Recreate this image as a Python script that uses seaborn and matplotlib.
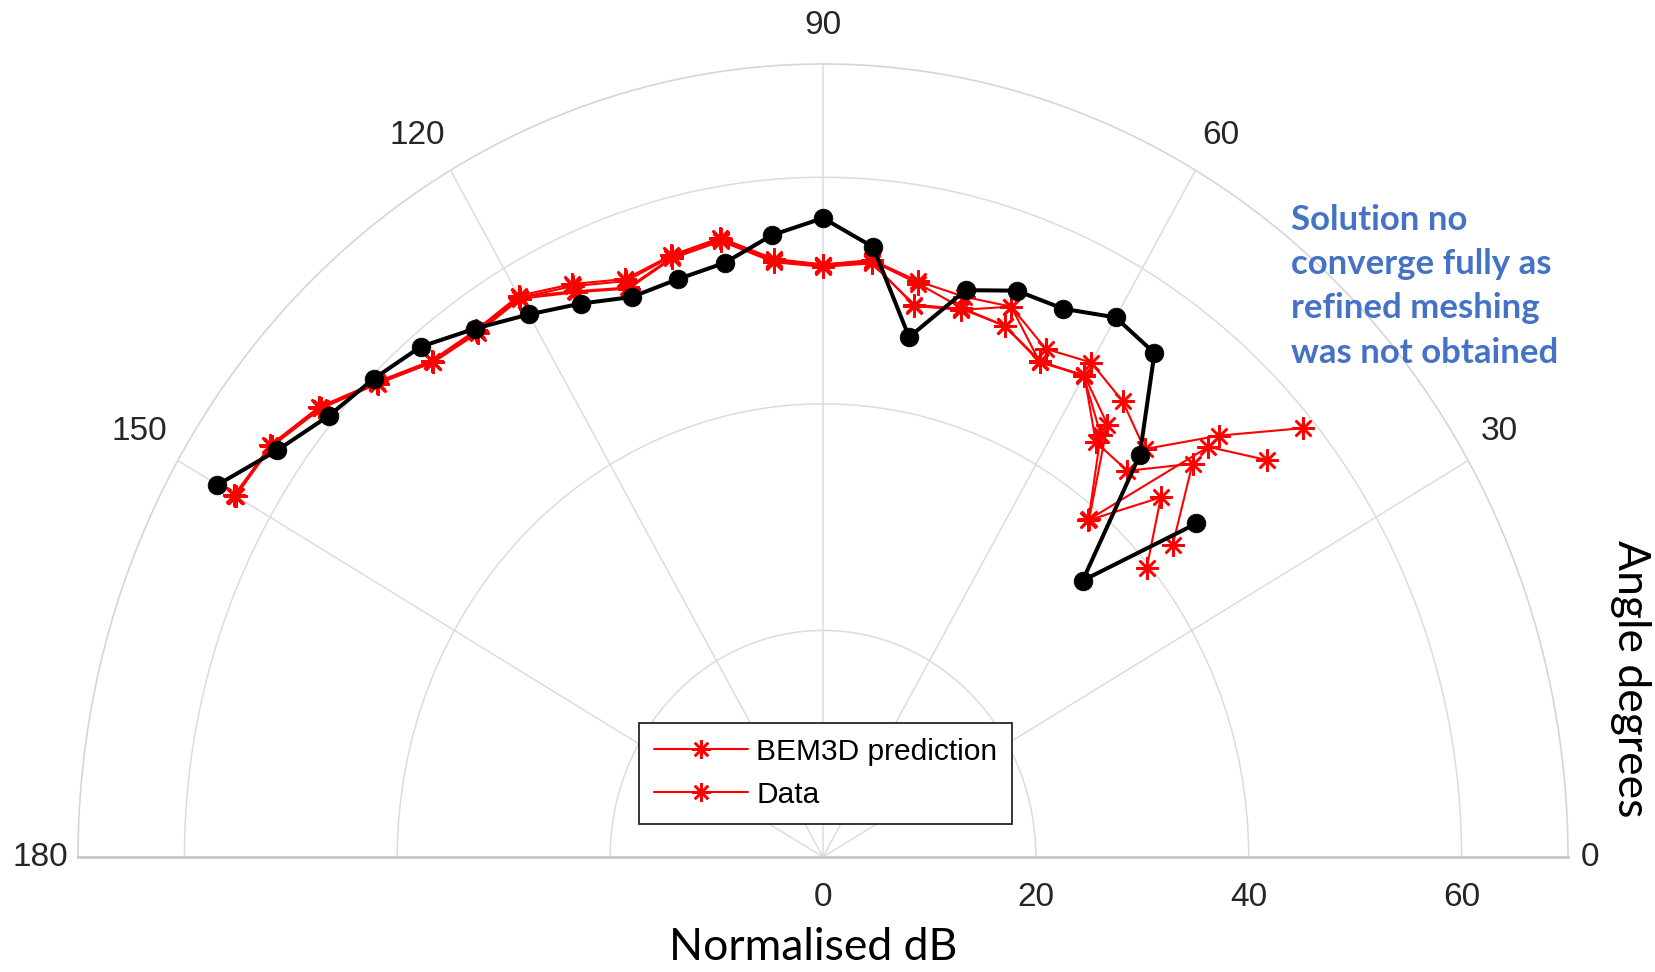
import numpy as np
import pandas as pd
import matplotlib
matplotlib.use("Agg")
import matplotlib.pyplot as plt
import seaborn as sns

# ---------------- data ----------------
angles_deg = [150, 145, 140, 135, 130, 125, 120, 115, 110, 105, 100, 95,
              90, 85, 80, 75, 70, 65, 60, 55, 50, 45, 40]

bem3d_black = [65.7, 62.6, 60.6, 59.7, 58.8, 56.95, 55.3, 53.9, 52.6, 52.8, 53.25, 55.1,
               56.4, 54.05, 46.6, 51.8, 53.2, 53.4, 55.0, 54.3, 46.3, 34.5, 45.8]

red_a = [63.8, 63.4, 61.8, 59.3, 57.2, 56.8, 57.2, 55.8, 54.3, 55.0, 55.5, 53.0,
         52.3, 52.9, 51.6, 51.2, 51.7, 49.5, 50.4, 49.1, 47.0, 52.6, 58.9]
red_b = [63.8, 63.2, 61.6, 59.1, 57.0, 56.5, 56.9, 55.0, 53.4, 54.7, 55.2, 52.7,
         52.1, 52.6, 49.5, 50.1, 49.9, 48.2, 49.1, 44.7, 44.5, 49.1, 42.9]
red_c = [63.7, 63.3, 61.7, 59.2, 57.1, 56.7, 57.1, 55.1, 53.5, 54.8, 55.4, 52.8,
         52.2, 52.7, 49.4, 50.0, 51.7, 48.2, 49.1, 46.6, 38.9, 51.2, 54.5]
red_d = [63.9, 63.3, 61.6, 59.2, 57.0, 56.6, 57.0, 55.6, 54.1, 54.9, 55.3, 52.9,
         52.3, 52.8, 51.4, 50.2, 49.9, 48.3, 49.0, 45.5, 38.8, 44.9, 39.7]

theta_ticks = [0, 30, 60, 90, 120, 150, 180]
theta_labels = ["0", "30", "60", "90", "120", "150", "180"]
r_ticks = [0, 20, 40, 60]
r_labels = ["0", "20", "40", "60"]
legend_labels = ["BEM3D prediction", "Data"]
note_lines = ["Solution no", "converge fully as", "refined meshing", "was not obtained"]
x_title = "Normalised dB"
y_title = "Angle degrees"

# ---------------- style ----------------
sns.set_theme(style="white")
plt.rcParams["font.family"] = ["Liberation Sans", "DejaVu Sans"]

W_PX, H_PX = 1655, 972
DPI = 100
fig = plt.figure(figsize=(W_PX / DPI, H_PX / DPI), dpi=DPI)
fig.patch.set_facecolor("white")

# polar axes: centre (823, 857) px, horizontal radius 745 px, vertical radius 793 px
cx, cy, rx, ry = 823, 857, 745, 793
ax_w = 2 * rx
ax_h = 2 * ry
ax_left = (cx - rx) / W_PX
ax_bottom = ((H_PX - cy) - 0.25 * ax_h) / H_PX
ax = fig.add_axes([ax_left, ax_bottom, ax_w / W_PX, ax_h / H_PX], projection="polar")
ax.set_aspect("auto")
ax.set_facecolor("white")

theta = np.deg2rad(angles_deg)
red_series = [(red_a, legend_labels[0]), (red_b, legend_labels[1]),
              (red_c, None), (red_d, None)]
ast = (8, 2, 0)
for vals, lab in red_series:
    kw = dict(label=lab) if lab else {}
    sns.lineplot(x=theta, y=vals, ax=ax, sort=False, estimator=None,
                 color="#ff0000", linewidth=1.5, marker=ast, markersize=16,
                 markeredgecolor="#ff0000", markeredgewidth=1.8, zorder=3, **kw)

sns.lineplot(x=theta, y=bem3d_black, ax=ax, sort=False, estimator=None,
             color="black", linewidth=2.9, marker="o", markersize=13.5,
             markeredgecolor="black", markerfacecolor="black", markeredgewidth=0.5,
             zorder=4)

if ax.get_legend() is not None:
    ax.get_legend().remove()

ax.set_thetamin(0)
ax.set_thetamax(180)
ax.set_rlim(0, 70)
ax.set_xticks(np.deg2rad(theta_ticks))
ax.set_xticklabels([])
ax.set_yticks(r_ticks[1:])
ax.set_yticklabels([])
ax.tick_params(length=0)
ax.set_xlabel("")
ax.set_ylabel("")
ax.grid(True, color="#dcdcdc", linewidth=1.1)
ax.spines["polar"].set_color("#d6d6d6")
ax.spines["polar"].set_linewidth(1.2)
for s in ("start", "end"):
    ax.spines[s].set_color("#c8c8c8")
    ax.spines[s].set_linewidth(2.0)
if "inner" in ax.spines:
    ax.spines["inner"].set_visible(False)

# theta labels (offsets from outer ring, in pixels)
px2pt = 72.0 / DPI
theta_off = {0: (22, 0), 30: (31, 29.5), 60: (25.5, 35), 90: (0, 39),
             120: (-33.5, 35), 150: (-38, 29.5), 180: (-38, 0)}
tick_font = dict(family=["Liberation Sans", "DejaVu Sans"], size=24, color="#262626")
for a, lab in zip(theta_ticks, theta_labels):
    dx, dy = theta_off[a]
    ax.annotate(lab, xy=(np.deg2rad(a), 70), xycoords="data",
                xytext=(dx * px2pt, dy * px2pt), textcoords="offset points",
                ha="center", va="center", annotation_clip=False, **tick_font)

for r, lab in zip(r_ticks, r_labels):
    ax.annotate(lab, xy=(0, r), xycoords="data",
                xytext=(0, -40 * px2pt), textcoords="offset points",
                ha="center", va="center", annotation_clip=False, **tick_font)

# axis titles
title_font = dict(family=["Lato", "DejaVu Sans"], size=32, color="black")
fig.text(812.7 / W_PX, 1 - 947 / H_PX, x_title, ha="center", va="center", **title_font)
fig.text(1631 / W_PX, 1 - 679 / H_PX, y_title, ha="center", va="center",
         rotation=-90, **title_font)

# annotation
note_font = dict(family=["Lato", "DejaVu Sans"], size=25, color="#4472C4",
                 fontweight="bold")
for line, base in zip(note_lines, [230, 274, 318.5, 363]):
    fig.text(1291 / W_PX, 1 - base / H_PX, line, ha="left", va="baseline", **note_font)

# legend
handles = [l for l in ax.lines if l.get_label() in legend_labels]
leg = fig.legend(handles=handles, labels=legend_labels, loc="upper left",
                 bbox_to_anchor=(639 / W_PX, 1 - 723 / H_PX), frameon=True,
                 fancybox=False, shadow=False, handlelength=3.15,
                 handletextpad=0.28, borderpad=0.5, labelspacing=0.5,
                 borderaxespad=0, numpoints=1, framealpha=1, markerscale=0.85,
                 prop=dict(family=["Liberation Sans", "DejaVu Sans"], size=21.5))
leg.get_frame().set_edgecolor("#262626")
leg.get_frame().set_linewidth(1.3)
leg.get_frame().set_facecolor("white")
for t in leg.get_texts():
    t.set_color("black")

fig.savefig("out.png", dpi=DPI)
